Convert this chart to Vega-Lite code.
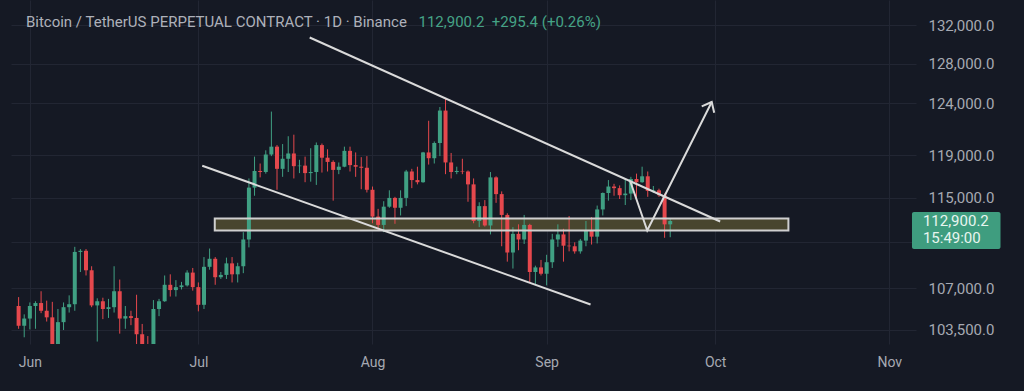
{
 "$schema": "https://vega.github.io/schema/vega-lite/v6.json",
 "width": 905, "height": 344,
 "autosize": {"type": "none"},
 "padding": {"left": 11, "top": 0, "right": 108, "bottom": 47},
 "background": "#151924",
 "config": {"view": {"stroke": null}, "font": "Roboto"},
 "datasets": {
  "candles": [
   {"d":"2025-05-30T00:00","o":105500,"h":106250,"l":103600,"c":103850},
   {"d":"2025-05-31T00:00","o":103850,"h":104800,"l":102900,"c":104450},
   {"d":"2025-06-01T00:00","o":104450,"h":105800,"l":103550,"c":105500},
   {"d":"2025-06-02T00:00","o":105500,"h":105900,"l":103600,"c":105750},
   {"d":"2025-06-03T00:00","o":105750,"h":106750,"l":104900,"c":105100},
   {"d":"2025-06-04T00:00","o":105100,"h":105950,"l":104200,"c":104550},
   {"d":"2025-06-05T00:00","o":104550,"h":105850,"l":100400,"c":101500},
   {"d":"2025-06-06T00:00","o":101500,"h":105250,"l":101100,"c":104150},
   {"d":"2025-06-07T00:00","o":104150,"h":105800,"l":103500,"c":105400},
   {"d":"2025-06-08T00:00","o":105400,"h":106400,"l":104950,"c":105650},
   {"d":"2025-06-09T00:00","o":105650,"h":110600,"l":105100,"c":110150},
   {"d":"2025-06-10T00:00","o":110150,"h":110400,"l":108400,"c":110250},
   {"d":"2025-06-11T00:00","o":110250,"h":110400,"l":108100,"c":108550},
   {"d":"2025-06-12T00:00","o":108550,"h":108900,"l":105400,"c":105550},
   {"d":"2025-06-13T00:00","o":105550,"h":106150,"l":102550,"c":105900},
   {"d":"2025-06-14T00:00","o":105900,"h":106200,"l":104400,"c":105250},
   {"d":"2025-06-15T00:00","o":105250,"h":106100,"l":104500,"c":105400},
   {"d":"2025-06-16T00:00","o":105400,"h":108900,"l":104950,"c":106750},
   {"d":"2025-06-17T00:00","o":106750,"h":107750,"l":103200,"c":104450},
   {"d":"2025-06-18T00:00","o":104450,"h":105500,"l":103600,"c":104650},
   {"d":"2025-06-19T00:00","o":104650,"h":105100,"l":103900,"c":104500},
   {"d":"2025-06-20T00:00","o":104500,"h":106450,"l":102300,"c":103150},
   {"d":"2025-06-21T00:00","o":103150,"h":104000,"l":100800,"c":102100},
   {"d":"2025-06-22T00:00","o":102100,"h":103000,"l":98200,"c":100900},
   {"d":"2025-06-23T00:00","o":100900,"h":106000,"l":99600,"c":105250},
   {"d":"2025-06-24T00:00","o":105250,"h":106100,"l":104650,"c":105900},
   {"d":"2025-06-25T00:00","o":105900,"h":108100,"l":105850,"c":107300},
   {"d":"2025-06-26T00:00","o":107300,"h":108200,"l":106300,"c":106850},
   {"d":"2025-06-27T00:00","o":106850,"h":107700,"l":106300,"c":107100},
   {"d":"2025-06-28T00:00","o":107100,"h":107550,"l":106900,"c":107250},
   {"d":"2025-06-29T00:00","o":107250,"h":108550,"l":107150,"c":108350},
   {"d":"2025-06-30T00:00","o":108350,"h":108750,"l":106800,"c":107100},
   {"d":"2025-07-01T00:00","o":107100,"h":107500,"l":105050,"c":105600},
   {"d":"2025-07-02T00:00","o":105600,"h":109700,"l":105250,"c":108850},
   {"d":"2025-07-03T00:00","o":108850,"h":110450,"l":108600,"c":109550},
   {"d":"2025-07-04T00:00","o":109550,"h":109700,"l":107300,"c":107950},
   {"d":"2025-07-05T00:00","o":107950,"h":108400,"l":107800,"c":108150},
   {"d":"2025-07-06T00:00","o":108150,"h":109650,"l":107800,"c":109150},
   {"d":"2025-07-07T00:00","o":109150,"h":109700,"l":107500,"c":108200},
   {"d":"2025-07-08T00:00","o":108200,"h":109200,"l":107500,"c":108900},
   {"d":"2025-07-09T00:00","o":108900,"h":111900,"l":108300,"c":111250},
   {"d":"2025-07-10T00:00","o":111250,"h":116800,"l":110550,"c":115950},
   {"d":"2025-07-11T00:00","o":115950,"h":118850,"l":115200,"c":117500},
   {"d":"2025-07-12T00:00","o":117500,"h":118200,"l":116900,"c":117400},
   {"d":"2025-07-13T00:00","o":117400,"h":119450,"l":117250,"c":119050},
   {"d":"2025-07-14T00:00","o":119050,"h":123200,"l":118900,"c":119800},
   {"d":"2025-07-15T00:00","o":119800,"h":119950,"l":115750,"c":117700},
   {"d":"2025-07-16T00:00","o":117700,"h":120050,"l":116950,"c":118650},
   {"d":"2025-07-17T00:00","o":118650,"h":120800,"l":117400,"c":119150},
   {"d":"2025-07-18T00:00","o":119150,"h":120950,"l":116800,"c":117950},
   {"d":"2025-07-19T00:00","o":117950,"h":118550,"l":117300,"c":118000},
   {"d":"2025-07-20T00:00","o":118000,"h":118850,"l":116450,"c":117300},
   {"d":"2025-07-21T00:00","o":117300,"h":119650,"l":116500,"c":117400},
   {"d":"2025-07-22T00:00","o":117400,"h":120200,"l":116200,"c":119950},
   {"d":"2025-07-23T00:00","o":119950,"h":120100,"l":117350,"c":118750},
   {"d":"2025-07-24T00:00","o":118750,"h":119550,"l":117450,"c":118350},
   {"d":"2025-07-25T00:00","o":118350,"h":118500,"l":114750,"c":117600},
   {"d":"2025-07-26T00:00","o":117600,"h":118300,"l":117200,"c":117900},
   {"d":"2025-07-27T00:00","o":117900,"h":119800,"l":117850,"c":119400},
   {"d":"2025-07-28T00:00","o":119400,"h":119800,"l":117450,"c":118050},
   {"d":"2025-07-29T00:00","o":118050,"h":119250,"l":116950,"c":117900},
   {"d":"2025-07-30T00:00","o":117900,"h":118800,"l":115800,"c":117800},
   {"d":"2025-07-31T00:00","o":117800,"h":118900,"l":115500,"c":115750},
   {"d":"2025-08-01T00:00","o":115750,"h":116050,"l":112700,"c":113300},
   {"d":"2025-08-02T00:00","o":113300,"h":114000,"l":112000,"c":112550},
   {"d":"2025-08-03T00:00","o":112550,"h":114700,"l":111900,"c":114200},
   {"d":"2025-08-04T00:00","o":114200,"h":115700,"l":114100,"c":115000},
   {"d":"2025-08-05T00:00","o":115000,"h":115100,"l":112650,"c":114100},
   {"d":"2025-08-06T00:00","o":114100,"h":115700,"l":113400,"c":115000},
   {"d":"2025-08-07T00:00","o":115000,"h":117600,"l":114250,"c":117450},
   {"d":"2025-08-08T00:00","o":117450,"h":117700,"l":115900,"c":116650},
   {"d":"2025-08-09T00:00","o":116650,"h":117900,"l":116250,"c":116450},
   {"d":"2025-08-10T00:00","o":116450,"h":119300,"l":116400,"c":119250},
   {"d":"2025-08-11T00:00","o":119250,"h":122300,"l":118100,"c":118700},
   {"d":"2025-08-12T00:00","o":118700,"h":120300,"l":118200,"c":120150},
   {"d":"2025-08-13T00:00","o":120150,"h":123650,"l":118900,"c":123300},
   {"d":"2025-08-14T00:00","o":123300,"h":124450,"l":117200,"c":118300},
   {"d":"2025-08-15T00:00","o":118300,"h":119200,"l":116800,"c":117400},
   {"d":"2025-08-16T00:00","o":117400,"h":117900,"l":117200,"c":117500},
   {"d":"2025-08-17T00:00","o":117500,"h":118650,"l":117200,"c":117450},
   {"d":"2025-08-18T00:00","o":117450,"h":117550,"l":114650,"c":116250},
   {"d":"2025-08-19T00:00","o":116250,"h":116800,"l":112700,"c":112900},
   {"d":"2025-08-20T00:00","o":112900,"h":114600,"l":112350,"c":114250},
   {"d":"2025-08-21T00:00","o":114250,"h":114800,"l":112400,"c":112500},
   {"d":"2025-08-22T00:00","o":112500,"h":117400,"l":111700,"c":116900},
   {"d":"2025-08-23T00:00","o":116900,"h":117000,"l":114550,"c":115350},
   {"d":"2025-08-24T00:00","o":115350,"h":115600,"l":110650,"c":113450},
   {"d":"2025-08-25T00:00","o":113450,"h":113600,"l":109300,"c":110100},
   {"d":"2025-08-26T00:00","o":110100,"h":112350,"l":108700,"c":111750},
   {"d":"2025-08-27T00:00","o":111750,"h":112600,"l":110300,"c":111250},
   {"d":"2025-08-28T00:00","o":111250,"h":113450,"l":110850,"c":112550},
   {"d":"2025-08-29T00:00","o":112550,"h":112650,"l":107450,"c":108400},
   {"d":"2025-08-30T00:00","o":108400,"h":108950,"l":107350,"c":108800},
   {"d":"2025-08-31T00:00","o":108800,"h":109450,"l":108100,"c":108250},
   {"d":"2025-09-01T00:00","o":108250,"h":109900,"l":107250,"c":109250},
   {"d":"2025-09-02T00:00","o":109250,"h":111750,"l":108750,"c":111250},
   {"d":"2025-09-03T00:00","o":111250,"h":112600,"l":110600,"c":111700},
   {"d":"2025-09-04T00:00","o":111700,"h":112200,"l":109300,"c":110700},
   {"d":"2025-09-05T00:00","o":110700,"h":113350,"l":110200,"c":110650},
   {"d":"2025-09-06T00:00","o":110650,"h":111000,"l":110000,"c":110200},
   {"d":"2025-09-07T00:00","o":110200,"h":111300,"l":110000,"c":111150},
   {"d":"2025-09-08T00:00","o":111150,"h":112900,"l":110650,"c":112050},
   {"d":"2025-09-09T00:00","o":112050,"h":113250,"l":110800,"c":111500},
   {"d":"2025-09-10T00:00","o":111500,"h":114300,"l":110900,"c":113950},
   {"d":"2025-09-11T00:00","o":113950,"h":115500,"l":113400,"c":115450},
   {"d":"2025-09-12T00:00","o":115450,"h":116650,"l":114750,"c":116050},
   {"d":"2025-09-13T00:00","o":116050,"h":116300,"l":115200,"c":115900},
   {"d":"2025-09-14T00:00","o":115900,"h":116150,"l":114900,"c":115250},
   {"d":"2025-09-15T00:00","o":115250,"h":116800,"l":114350,"c":115400},
   {"d":"2025-09-16T00:00","o":115400,"h":116950,"l":114800,"c":116750},
   {"d":"2025-09-17T00:00","o":116750,"h":117250,"l":114700,"c":116450},
   {"d":"2025-09-18T00:00","o":116450,"h":117900,"l":116400,"c":117000},
   {"d":"2025-09-19T00:00","o":117000,"h":117450,"l":115100,"c":115650},
   {"d":"2025-09-20T00:00","o":115650,"h":116100,"l":115450,"c":115700},
   {"d":"2025-09-21T00:00","o":115700,"h":115850,"l":115100,"c":115250},
   {"d":"2025-09-22T00:00","o":115250,"h":115400,"l":111400,"c":112600},
   {"d":"2025-09-23T00:00","o":112600,"h":113150,"l":111450,"c":112900}
  ],
  "lines": [
   {"s":"upper","i":0,"d":"2025-07-20T19:41","p":130700},
   {"s":"upper","i":1,"d":"2025-10-01T21:22","p":112857},
   {"s":"lower","i":0,"d":"2025-07-01T16:34","p":117994},
   {"s":"lower","i":1,"d":"2025-09-08T19:41","p":105627},
   {"s":"path","i":0,"d":"2025-09-15T20:53","p":116563},
   {"s":"path","i":1,"d":"2025-09-18T21:50","p":112050},
   {"s":"path","i":2,"d":"2025-09-30T09:22","p":124146},
   {"s":"head","i":0,"d":"2025-09-28T14:38","p":123720},
   {"s":"head","i":1,"d":"2025-09-30T09:22","p":124146},
   {"s":"head","i":2,"d":"2025-09-30T19:55","p":123090}
  ],
  "zone": [
   {"a":"2025-07-03T22:06","b":"2025-10-14T01:00","lo":112050,"hi":113128}
  ]
 },
 "layer": [
  {
   "data": {"name": "zone"},
   "mark": {"type": "rect", "color": "#48452e", "clip": true},
   "encoding": {
    "x": {"field": "a", "type": "temporal", "scale": {"domain": [{"year":2025,"month":5,"date":29,"hours":12,"minutes":51},{"year":2025,"month":11,"date":4,"hours":20,"minutes":47}]},
     "axis": {"values": [{"year":2025,"month":6,"date":1},{"year":2025,"month":7,"date":1},{"year":2025,"month":8,"date":1},{"year":2025,"month":9,"date":1},{"year":2025,"month":10,"date":1},{"year":2025,"month":11,"date":1}],
      "format": "%b", "title": null, "grid": true, "gridColor": "#222633", "domain": false, "ticks": false, "tickSize": 0,
      "labelColor": "#a6a9b2", "labelFontSize": 14, "labelFont": "Roboto", "labelPadding": 11, "labelFlush": false, "labelOverlap": false}},
    "x2": {"field": "b"},
    "y": {"field": "lo", "type": "quantitative", "scale": {"type": "log", "domain": [102350, 134669], "nice": false},
     "axis": {"orient": "right", "values": [103500, 107000, 111000, 115000, 119000, 124000, 128000, 132000], "format": ",.1f",
      "labelExpr": "datum.value == 111000 ? '' : datum.label", "title": null, "grid": true, "gridColor": "#222633",
      "domain": false, "ticks": false, "tickSize": 0, "labelColor": "#a6a9b2", "labelFontSize": 15, "labelFont": "Roboto", "labelPadding": 12, "labelBaseline": "middle"}},
    "y2": {"field": "hi"}
   }
  },
  {
   "data": {"name": "candles"},
   "mark": {"type": "rule", "strokeWidth": 1, "clip": true},
   "encoding": {
    "x": {"field": "d", "type": "temporal"},
    "y": {"field": "l", "type": "quantitative"},
    "y2": {"field": "h"},
    "color": {"condition": {"test": "datum.c >= datum.o", "value": "#40a083"}, "value": "#e5484d"}
   }
  },
  {
   "data": {"name": "candles"},
   "mark": {"type": "bar", "size": 4, "clip": true},
   "encoding": {
    "x": {"field": "d", "type": "temporal"},
    "y": {"field": "o", "type": "quantitative"},
    "y2": {"field": "c"},
    "color": {"condition": {"test": "datum.c >= datum.o", "value": "#40a083"}, "value": "#e5484d"}
   }
  },
  {
   "data": {"name": "zone"},
   "mark": {"type": "rect", "filled": false, "color": "#cfcfcf", "strokeWidth": 2, "clip": true},
   "encoding": {
    "x": {"field": "a", "type": "temporal"},
    "x2": {"field": "b"},
    "y": {"field": "lo", "type": "quantitative"},
    "y2": {"field": "hi"}
   }
  },
  {
   "data": {"name": "lines"},
   "mark": {"type": "line", "strokeWidth": 2, "color": "#dadada", "clip": true},
   "encoding": {
    "x": {"field": "d", "type": "temporal"},
    "y": {"field": "p", "type": "quantitative"},
    "detail": {"field": "s"},
    "order": {"field": "i"}
   }
  },
  {
   "data": {"values": [{"d": "2025-05-31T07:06", "p": 132378, "t": "Bitcoin / TetherUS PERPETUAL CONTRACT · 1D · Binance"}]},
   "mark": {"type": "text", "align": "left", "baseline": "middle", "fontSize": 15, "font": "Roboto", "color": "#aeb1ba"},
   "encoding": {
    "x": {"field": "d", "type": "temporal"},
    "y": {"field": "p", "type": "quantitative"},
    "text": {"field": "t"}
   }
  },
  {
   "data": {"values": [{"d": "2025-08-09T04:34", "p": 132378, "t": "112,900.2\u00a0\u00a0+295.4 (+0.26%)"}]},
   "mark": {"type": "text", "align": "left", "baseline": "middle", "fontSize": 15, "font": "Roboto", "color": "#45a386"},
   "encoding": {
    "x": {"field": "d", "type": "temporal"},
    "y": {"field": "p", "type": "quantitative"},
    "text": {"field": "t"}
   }
  },
  {
   "data": {"values": [{"a": "2025-11-05T01:00", "b": "2025-11-20T19:12", "lo": 110408, "hi": 113715}]},
   "mark": {"type": "rect", "color": "#3f9d7f", "cornerRadius": 2},
   "encoding": {
    "x": {"field": "a", "type": "temporal"},
    "x2": {"field": "b"},
    "y": {"field": "lo", "type": "quantitative"},
    "y2": {"field": "hi"}
   }
  },
  {
   "data": {"values": [{"d": "2025-11-06T23:33", "p": 112900.2, "t": "112,900.2"}, {"d": "2025-11-06T23:33", "p": 111381, "t": "15:49:00"}]},
   "mark": {"type": "text", "align": "left", "baseline": "middle", "fontSize": 15, "font": "Roboto", "color": "#e8f5ef"},
   "encoding": {
    "x": {"field": "d", "type": "temporal"},
    "y": {"field": "p", "type": "quantitative"},
    "text": {"field": "t"}
   }
  }
 ]
}
